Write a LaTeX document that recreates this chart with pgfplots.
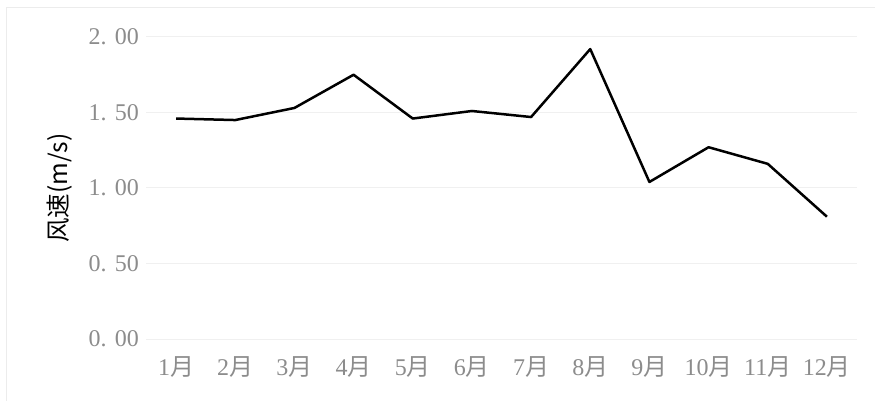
\documentclass[border=0pt]{standalone}
\usepackage{pgfplots}
\pgfplotsset{compat=1.18}
\usepackage{fontspec}
\setmainfont{Liberation Serif}
\newfontfamily\cjk{Noto Sans CJK SC}
\definecolor{tickgray}{RGB}{140,140,140}
\definecolor{gridgray}{RGB}{240,240,240}
\definecolor{framegray}{RGB}{236,236,236}
\begin{document}
\begin{tikzpicture}
\path[use as bounding box] (-146.5bp,-62bp) rectangle (728.5bp,339bp);
\draw[framegray, line width=1bp] (-139.5bp,-70bp) -- (-139.5bp,331bp) -- (740bp,331bp);
\begin{axis}[
  at={(0,0)}, anchor=south west,
  scale only axis, width=710bp, height=302bp,
  xmin=-0.5, xmax=11.5, ymin=0, ymax=2,
  xtick={0,...,11},
  xticklabels={1{\cjk 月},2{\cjk 月},3{\cjk 月},4{\cjk 月},5{\cjk 月},6{\cjk 月},7{\cjk 月},8{\cjk 月},9{\cjk 月},10{\cjk 月},11{\cjk 月},12{\cjk 月}},
  ytick={0,0.5,1,1.5,2},
  yticklabels={0.\hspace{0.35em}00,0.\hspace{0.35em}50,1.\hspace{0.35em}00,1.\hspace{0.35em}50,2.\hspace{0.35em}00},
  xticklabel style={font=\fontsize{24bp}{26bp}\selectfont, text=tickgray, yshift=-14bp},
  yticklabel style={font=\fontsize{24bp}{26bp}\selectfont, text=tickgray, xshift=-4bp},
  ymajorgrids, grid style={gridgray, line width=1bp},
  axis line style={draw=none}, major tick length=0pt,
  ylabel={\cjk 风速(m/s)},
  ylabel style={font=\fontsize{24.5bp}{27bp}\selectfont, text=black, at={(axis description cs:-0.1225,0.5)}, anchor=center},
]
\addplot[black, line width=2.5bp, line join=round, mark=none] coordinates {
(0,1.46) (1,1.45) (2,1.53) (3,1.75) (4,1.46) (5,1.51)
(6,1.47) (7,1.92) (8,1.04) (9,1.27) (10,1.16) (11,0.81)
};
\end{axis}
\end{tikzpicture}
\end{document}
